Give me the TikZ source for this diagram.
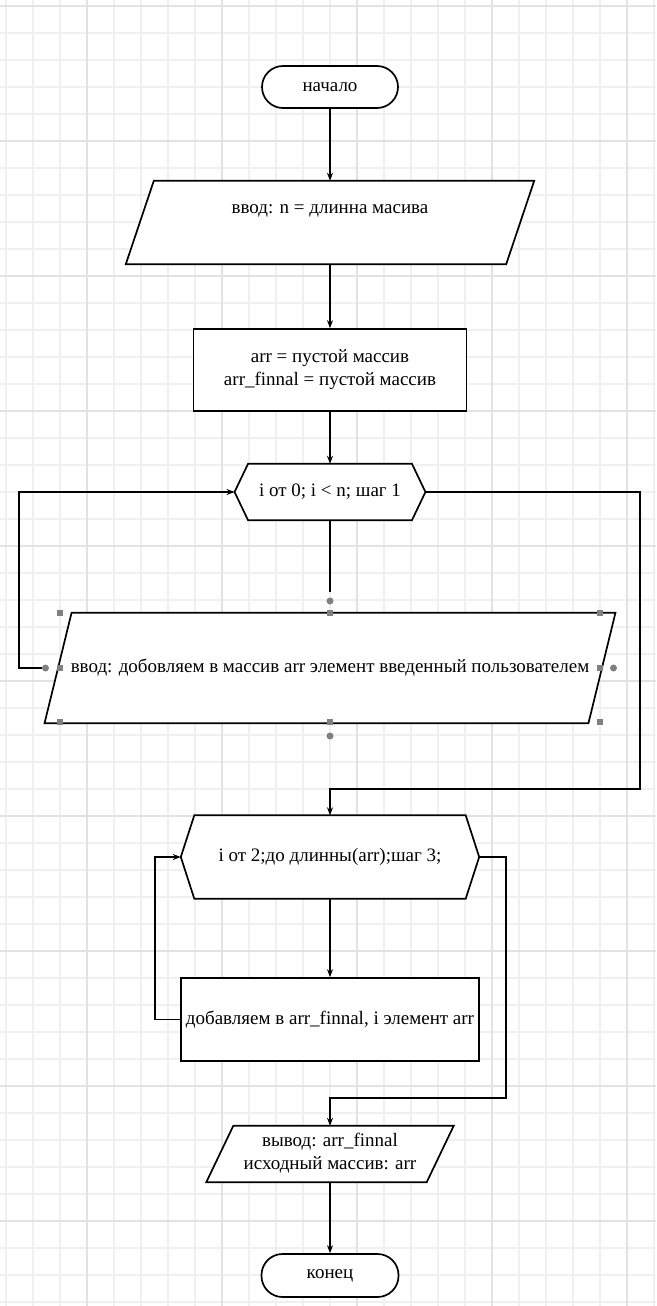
\documentclass[tikz,border=0pt]{standalone}
\usepackage{fontspec}
\setmainfont{Liberation Serif}
\usetikzlibrary{arrows.meta}

\definecolor{gridminor}{RGB}{240,240,240}
\definecolor{gridmajor}{RGB}{226,226,226}
\definecolor{handlegray}{RGB}{128,128,128}

\begin{document}
\begin{tikzpicture}[x=1pt, y=-1pt,
  every node/.style={font=\fontsize{19}{23}\selectfont, inner sep=0pt, align=center},
  frame/.style={rectangle, draw=none},
  terminal/.style={draw, fill=white, line width=1.7pt, rounded corners=21pt, minimum width=136pt, minimum height=42pt},
  block/.style={draw, fill=white, line width=1.7pt},
  outline/.style={draw, fill=white, line width=1.7pt},
  flow/.style={line width=1.5pt, -{Stealth[length=8pt, width=6pt]}},
  link/.style={line width=1.5pt},
  hsquare/.style={fill=handlegray, minimum size=6.5pt},
  hdot/.style={circle, fill=handlegray, minimum size=7pt}]

          \useasboundingbox (0,0) rectangle (656,1306);

          % grid
          \foreach \gx in {0,...,24}
            \draw[gridminor, line width=1.2pt] (6+27*\gx,0) -- (6+27*\gx,1306);
          \foreach \gy in {0,...,48}
            \draw[gridminor, line width=1.2pt] (0,6+27*\gy) -- (656,6+27*\gy);
          \foreach \gx in {0,...,4}
            \draw[gridmajor, line width=1.5pt] (87+135*\gx,0) -- (87+135*\gx,1306);
          \foreach \gy in {0,...,9}
            \draw[gridmajor, line width=1.5pt] (0,6+135*\gy) -- (656,6+135*\gy);

          \node[terminal] (start) at (330,87) {начало};

          \node[frame, minimum width=408pt, minimum height=83pt] (inN) at (330,222.5) {};
          \draw[outline] ([xshift=28pt]inN.north west) -- (inN.north east)
            -- ([xshift=-28pt]inN.south east) -- (inN.south west) -- cycle;
          \node (inNtxt) at (330,211) {ввод: n = длинна масива};

          \node[block, minimum width=273pt, minimum height=82pt] (init) at (330,370)
            {arr = пустой массив\\arr\_finnal = пустой массив};

          \node[frame, minimum width=190.5pt, minimum height=56pt] (loopA) at (330,492) {};
          \draw[outline] ([xshift=13.5pt]loopA.north west) -- ([xshift=-13.5pt]loopA.north east)
            -- (loopA.east) -- ([xshift=-13.5pt]loopA.south east)
            -- ([xshift=13.5pt]loopA.south west) -- (loopA.west) -- cycle;
          \node (loopAtxt) at (loopA.center) {i от 0; i < n; шаг 1};

          \node[frame, minimum width=570.5pt, minimum height=110pt] (inArr) at (330,668) {};
          \draw[outline] ([xshift=27pt]inArr.north west) -- (inArr.north east)
            -- ([xshift=-27pt]inArr.south east) -- (inArr.south west) -- cycle;
          \node (inArrtxt) at (inArr.center) {ввод: добовляем в массив arr элемент введенный пользователем};

          % selection handles
          \foreach \hx/\hy [count=\k] in {60/613,330/613,600/613,60/668,600/668,60/722,330/722,600/722}
            \node[hsquare] (sq\k) at (\hx,\hy) {};
          \node[hdot] (hTop) at (330,601) {};
          \node[hdot] (hBot) at (330,736) {};
          \node[hdot] (hLeft) at (45.5,668) {};
          \node[hdot] (hRight) at (613.5,668) {};

          \node[frame, minimum width=298pt, minimum height=83pt] (loopB) at (330,857) {};
          \draw[outline] ([xshift=13.5pt]loopB.north west) -- ([xshift=-13.5pt]loopB.north east)
            -- (loopB.east) -- ([xshift=-13.5pt]loopB.south east)
            -- ([xshift=13.5pt]loopB.south west) -- (loopB.west) -- cycle;
          \node (loopBtxt) at (loopB.center) {i от 2;до длинны(arr);шаг 3;};

          \node[block, minimum width=298pt, minimum height=83pt] (body) at (330,1019.5)
            {добавляем в arr\_finnal, i элемент arr};

          \node[frame, minimum width=247pt, minimum height=56pt] (outp) at (330,1154) {};
          \draw[outline] ([xshift=27pt]outp.north west) -- (outp.north east)
            -- ([xshift=-27pt]outp.south east) -- (outp.south west) -- cycle;
          \node (outptxt) at (330,1153) {вывод: arr\_finnal\\исходный массив: arr};

          \node[terminal, minimum width=137pt, minimum height=43pt] (stop) at (330,1275.5) {конец};

          \coordinate (backA) at (19,580);
          \coordinate (exitA) at (640,789);
          \coordinate (backB) at (155,940);
          \coordinate (exitB) at (506,1098);

          \draw[flow] (start.south) -- (inN.north);
          \draw[flow] (inN.south) -- (init.north);
          \draw[flow] (init.south) -- (loopA.north);
          \draw[link] (loopA.south) -- ([yshift=5pt]hTop.north);
          \draw[flow] (hLeft.west) -| (backA) |- (loopA.west);
          \draw[flow] (loopA.east) -| (exitA) -| (loopB.north);
          \draw[flow] (loopB.south) -- (body.north);
          \draw[flow] (body.west) -| (backB) |- (loopB.west);
          \draw[flow] (loopB.east) -| (exitB) -| (outp.north);
          \draw[flow] (outp.south) -- (stop.north);

\end{tikzpicture}
\end{document}
